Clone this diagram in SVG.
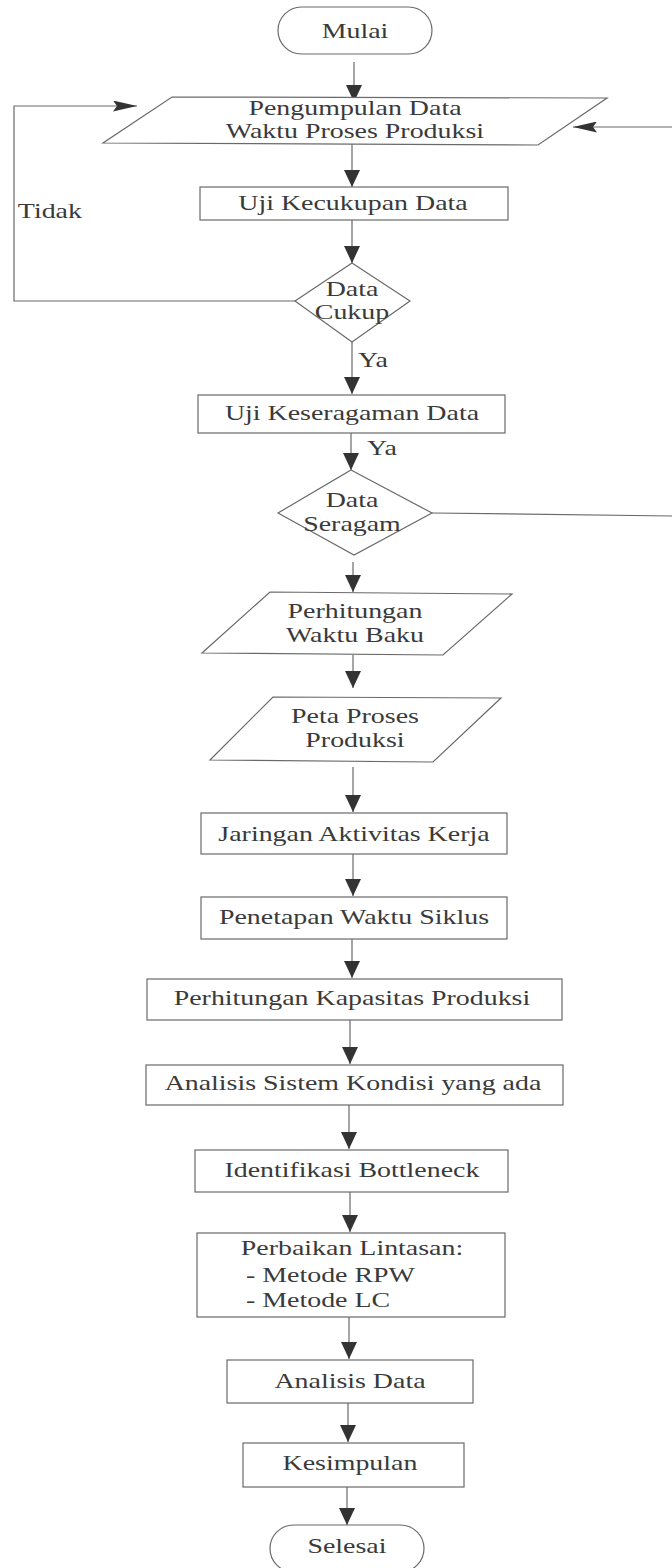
<svg xmlns="http://www.w3.org/2000/svg" width="672" height="1568" viewBox="0 0 672 1568">
<style>
  .shape { fill: #ffffff; stroke: #6a6a6a; stroke-width: 1.2; }
  .conn { fill: none; stroke: #6a6a6a; stroke-width: 1.2; }
  .t { font-family: "Liberation Serif", "Times New Roman", serif; font-size: 21px; fill: #3a3a3a; text-anchor: middle; transform-box: fill-box; transform-origin: center; transform: scaleX(1.33); }
  .tl { font-family: "Liberation Serif", "Times New Roman", serif; font-size: 21px; fill: #3a3a3a; text-anchor: start; transform-box: fill-box; transform-origin: 0 50%; transform: scaleX(1.33); }
</style>
<defs>
  <marker id="av" viewBox="0 0 17 16" refX="17" refY="8" markerWidth="17" markerHeight="16" markerUnits="userSpaceOnUse" orient="auto">
    <path d="M0,0 L17,8 L0,16 z" fill="#333333"/>
  </marker>
  <marker id="ah" viewBox="0 0 24 11" refX="24" refY="5.5" markerWidth="24" markerHeight="11" markerUnits="userSpaceOnUse" orient="auto">
    <path d="M0,0 L24,5.5 L0,11 L4,5.5 z" fill="#333333"/>
  </marker>
</defs>
<rect width="672" height="1568" fill="#ffffff"/>

<g id="connectors">
  <path class="conn" d="M354,62 V102" marker-end="url(#av)"/>
  <path class="conn" d="M352,144 V187" marker-end="url(#av)"/>
  <path class="conn" d="M352,220 V263" marker-end="url(#av)"/>
  <path class="conn" d="M352,342 V394" marker-end="url(#av)"/>
  <path class="conn" d="M351,433 V470" marker-end="url(#av)"/>
  <path class="conn" d="M353,562 V592" marker-end="url(#av)"/>
  <path class="conn" d="M353,655 V688" marker-end="url(#av)"/>
  <path class="conn" d="M353,767 V812" marker-end="url(#av)"/>
  <path class="conn" d="M353,854 V896" marker-end="url(#av)"/>
  <path class="conn" d="M352,939 V978" marker-end="url(#av)"/>
  <path class="conn" d="M350,1020 V1064" marker-end="url(#av)"/>
  <path class="conn" d="M349,1105 V1149" marker-end="url(#av)"/>
  <path class="conn" d="M350,1192 V1232" marker-end="url(#av)"/>
  <path class="conn" d="M349,1317 V1359" marker-end="url(#av)"/>
  <path class="conn" d="M348,1403 V1442" marker-end="url(#av)"/>
  <path class="conn" d="M347,1487 V1525" marker-end="url(#av)"/>
  <path class="conn" d="M295,301 H14 V106 H137" marker-end="url(#ah)"/>
  <path class="conn" d="M432,513 L672,516"/>
  <path class="conn" d="M672,127 H573" marker-end="url(#ah)"/>
  <text class="t" x="50" y="218">Tidak</text>
  <text class="t" x="373" y="367">Ya</text>
  <text class="t" x="382" y="455">Ya</text>
</g>

<g id="mulai">
  <rect class="shape" x="278" y="7" width="154" height="47" rx="23.5"/>
  <text class="t" x="355" y="38">Mulai</text>
</g>
<g id="pengumpulan">
  <polygon class="shape" points="172,97 607,98 538,145 103,143"/>
  <text class="t" x="355" y="115">Pengumpulan Data</text>
  <text class="t" x="355" y="138">Waktu Proses Produksi</text>
</g>
<g id="uji-kecukupan">
  <rect class="shape" x="200" y="187" width="308" height="33"/>
  <text class="t" x="353" y="210">Uji Kecukupan Data</text>
</g>
<g id="data-cukup">
  <polygon class="shape" points="352,263 410,301 352,342 295,301"/>
  <text class="t" x="352" y="296">Data</text>
  <text class="t" x="352" y="319">Cukup</text>
</g>
<g id="uji-keseragaman">
  <rect class="shape" x="198" y="395" width="307" height="38"/>
  <text class="t" x="352" y="420">Uji Keseragaman Data</text>
</g>
<g id="data-seragam">
  <polygon class="shape" points="351,470 432,513 354,555 278,513"/>
  <text class="t" x="352" y="507">Data</text>
  <text class="t" x="352" y="531">Seragam</text>
</g>
<g id="perhitungan-waktu-baku">
  <polygon class="shape" points="270,592 512,594 443,655 202,653"/>
  <text class="t" x="355" y="618">Perhitungan</text>
  <text class="t" x="355" y="642">Waktu Baku</text>
</g>
<g id="peta-proses">
  <polygon class="shape" points="273,697 501,698 433,762 210,760"/>
  <text class="t" x="355" y="723">Peta Proses</text>
  <text class="t" x="355" y="747">Produksi</text>
</g>
<g id="jaringan">
  <rect class="shape" x="201" y="813" width="306" height="41"/>
  <text class="t" x="354" y="841">Jaringan Aktivitas Kerja</text>
</g>
<g id="penetapan">
  <rect class="shape" x="201" y="897" width="306" height="42"/>
  <text class="t" x="354" y="924">Penetapan Waktu Siklus</text>
</g>
<g id="kapasitas">
  <rect class="shape" x="147" y="979" width="415" height="41"/>
  <text class="t" x="352" y="1005">Perhitungan Kapasitas Produksi</text>
</g>
<g id="analisis-sistem">
  <rect class="shape" x="146" y="1065" width="417" height="40"/>
  <text class="t" x="353" y="1090">Analisis Sistem Kondisi yang ada</text>
</g>
<g id="identifikasi">
  <rect class="shape" x="195" y="1150" width="313" height="42"/>
  <text class="t" x="352" y="1177">Identifikasi Bottleneck</text>
</g>
<g id="perbaikan">
  <rect class="shape" x="197" y="1233" width="308" height="84"/>
  <text class="t" x="352" y="1255">Perbaikan Lintasan:</text>
  <text class="tl" x="246" y="1282">- Metode RPW</text>
  <text class="tl" x="246" y="1307">- Metode LC</text>
</g>
<g id="analisis-data">
  <rect class="shape" x="227" y="1360" width="246" height="43"/>
  <text class="t" x="350" y="1388">Analisis Data</text>
</g>
<g id="kesimpulan">
  <rect class="shape" x="243" y="1443" width="221" height="44"/>
  <text class="t" x="350" y="1470">Kesimpulan</text>
</g>
<g id="selesai">
  <rect class="shape" x="270" y="1525" width="154" height="47" rx="23.5"/>
  <text class="t" x="347" y="1553">Selesai</text>
</g>
</svg>
